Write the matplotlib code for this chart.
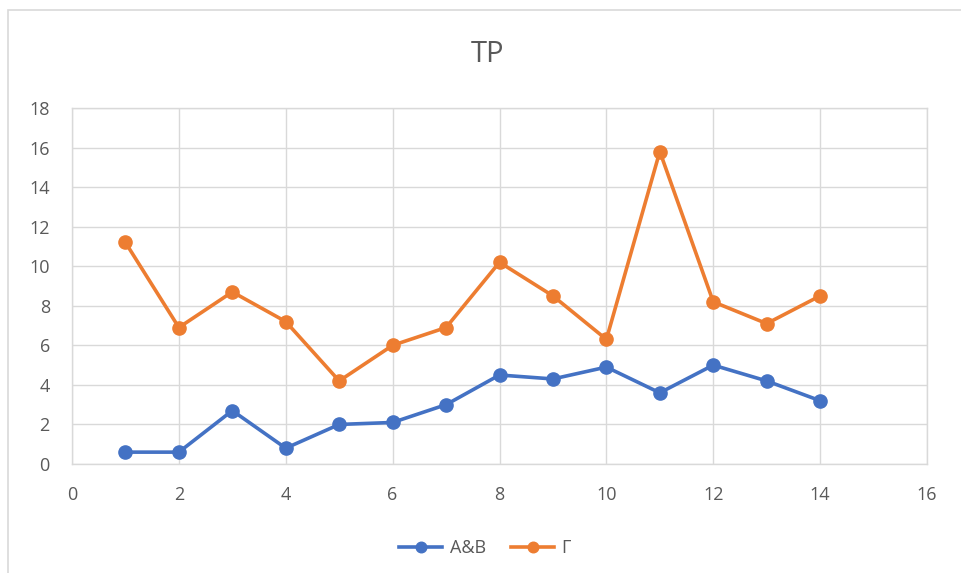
import matplotlib
matplotlib.use("Agg")
import matplotlib.pyplot as plt
from matplotlib.patches import Rectangle

plt.rcParams["font.family"] = ["Open Sans", "DejaVu Sans"]

x = list(range(1, 15))
ab = [0.6, 0.6, 2.7, 0.8, 2.0, 2.1, 3.0, 4.5, 4.3, 4.9, 3.6, 5.0, 4.2, 3.2]
gamma = [11.2, 6.9, 8.7, 7.2, 4.2, 6.0, 6.9, 10.2, 8.5, 6.3, 15.8, 8.2, 7.1, 8.5]
labels = ["A&B", "Γ"]
colors = ["#4472C4", "#ED7D31"]

W, H = 961, 573
fig = plt.figure(figsize=(W / 100, H / 100), dpi=100)

# chart-area frame
fig.patches.append(Rectangle((8 / W, -0.05), 1.2, 1 - 10 / H + 0.05,
                             transform=fig.transFigure, fill=False,
                             edgecolor="#d9d9d9", lw=1.2))

ax = fig.add_axes([72 / W, 1 - 464 / H, (927 - 72) / W, (464 - 108) / H])
for ys, lab, c in zip([ab, gamma], labels, colors):
    ax.plot(x, ys, "-o", color=c, lw=2.6, ms=9.5, label=lab, zorder=3)

ax.set_xlim(0, 16)
ax.set_ylim(0, 18)
ax.set_xticks(range(0, 17, 2))
ax.set_yticks(range(0, 19, 2))
ax.grid(True, color="#d9d9d9", lw=1.0)
ax.set_axisbelow(True)
for s in ax.spines.values():
    s.set_color("#d9d9d9")
    s.set_linewidth(1.0)
ax.tick_params(length=0, labelsize=13, labelcolor="#595959")
ax.tick_params(axis="x", pad=16)
ax.tick_params(axis="y", pad=16)

fig.text(488 / W, 1 - 55 / H, "TP", ha="center", va="center",
         fontsize=21, color="#595959")

fig.legend(loc="center", bbox_to_anchor=(485 / W, 1 - 548 / H), ncol=2,
           frameon=False, fontsize=13, labelcolor="#595959",
           handlelength=2.4, columnspacing=1.4, handletextpad=0.4,
           markerscale=0.8)

fig.savefig("out.png", dpi=100)
